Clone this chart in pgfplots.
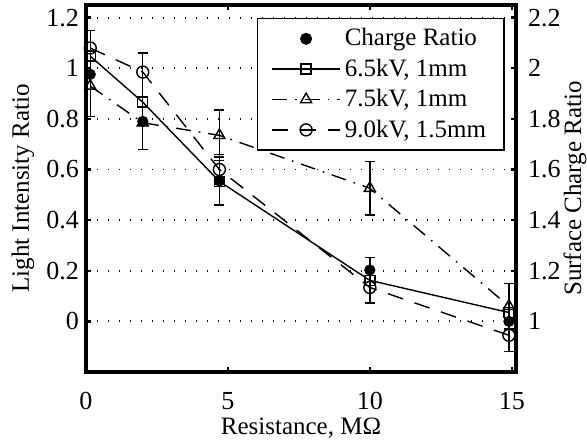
\documentclass[border=0pt]{standalone}
\usepackage{fontspec}
\setmainfont{Liberation Serif}
\usepackage{pgfplots}
\usepackage{pgfplotstable}
\pgfplotsset{compat=1.18}

% light intensity ratio, left axis
\pgfplotstableread{
x y
0.15 1.048
2 0.866
4.7 0.553
10 0.162
14.9 0.035
}\lowkv
\pgfplotstableread{
x y
0.15 0.93
2 0.785
4.7 0.735
10 0.526
14.9 0.06
}\midkv
\pgfplotstableread{
x y
0.15 1.08
2 0.985
4.7 0.60
10 0.134
14.9 -0.055
}\highkv
% error bars (left axis units)
\pgfplotstableread{
x y e
0.15 0.98 0.17
2 0.87 0.19
4.7 0.735 0.10
4.7 0.555 0.095
4.7 0.60 0.06
10 0.526 0.105
10 0.162 0.09
14.9 0.06 0.09
14.9 -0.055 0.065
}\errs
% surface charge ratio, right axis
\pgfplotstableread{
x y
0.15 1.976
2 1.79
4.7 1.555
10 1.203
14.9 1.0
}\charge

\begin{document}
\begin{tikzpicture}[font=\fontsize{12.5}{14.5}\selectfont]
\useasboundingbox (-43pt,-33.5pt) rectangle (250.5pt,186pt);
\pgfplotsset{
  every axis/.append style={
    scale only axis, width=215pt, height=183.5pt,
    xmin=0, xmax=15.15,
    /pgf/number format/assume math mode=true,
    axis line style={line width=2pt},
    tick style={black, line width=1.2pt},
    major tick length=2.5pt, tick align=inside,
    tick label style={font=\fontsize{13}{15}\selectfont},
  },
  legend image code/.code={\draw[mark repeat=2,mark phase=2] plot coordinates {(0pt,0pt) (17pt,0pt) (34pt,0pt)};},
}
\begin{axis}[
  ymin=-0.2, ymax=1.25,
  xtick={0,5,10,15}, xtick pos=both,
  ytick={0,0.2,0.4,0.6,0.8,1,1.2}, ytick pos=left,
  ymajorgrids,
  grid style={black, line width=0.9pt, dash pattern=on 0.6pt off 4.9pt},
  xlabel={Resistance, MΩ}, ylabel={Light Intensity Ratio},
  every axis x label/.style={at={(axis description cs:0.5,-0.171)}, anchor=base},
  every axis y label/.style={at={(axis description cs:-0.1465,0.5)}, rotate=90, anchor=center},
  xticklabel style={anchor=base, yshift=-18.5pt},
  legend style={at={(axis description cs:0.974,0.965)}, anchor=north east,
    draw=black, line width=0.8pt, inner xsep=7pt, inner ysep=3pt,
    row sep=1pt, font=\fontsize{12.5}{14.5}\selectfont},
  legend cell align=left,
]
\addlegendimage{only marks, mark=*, mark size=2.6pt, black}
\addlegendentry{Charge Ratio}
\addplot[black, line width=0.7pt, mark=square, mark size=2.5pt] table {\lowkv};
\addlegendentry{6.5kV, 1mm}
\addplot[black, line width=0.7pt, dash pattern=on 7.5pt off 4pt on 0.8pt off 4pt,
  mark=triangle, mark size=3.2pt, mark options={solid}] table {\midkv};
\addlegendentry{7.5kV, 1mm}
\addplot[black, line width=0.7pt, dash pattern=on 8pt off 6pt,
  mark=o, mark size=3pt, mark options={solid}] table {\highkv};
\addlegendentry{9.0kV, 1.5mm}
\addplot[draw=none, mark=none, forget plot,
  error bars/.cd, y dir=both, y explicit,
  error bar style={black, line width=0.7pt, solid},
  error mark options={rotate=90, mark size=2.5pt, line width=0.7pt, black}]
  table[x=x, y=y, y error=e] {\errs};
\end{axis}
\begin{axis}[
  ymin=0.8, ymax=2.25,
  axis x line=none, axis y line*=right,
  ytick={1,1.2,1.4,1.6,1.8,2,2.2},
  yticklabel style={xshift=2.5pt},
  ylabel={Surface Charge Ratio},
  every axis y label/.style={at={(axis description cs:1.137,0.5)}, rotate=90, anchor=center},
]
\addplot[only marks, mark=*, mark size=2.6pt, black] table {\charge};
\end{axis}
\end{tikzpicture}
\end{document}
